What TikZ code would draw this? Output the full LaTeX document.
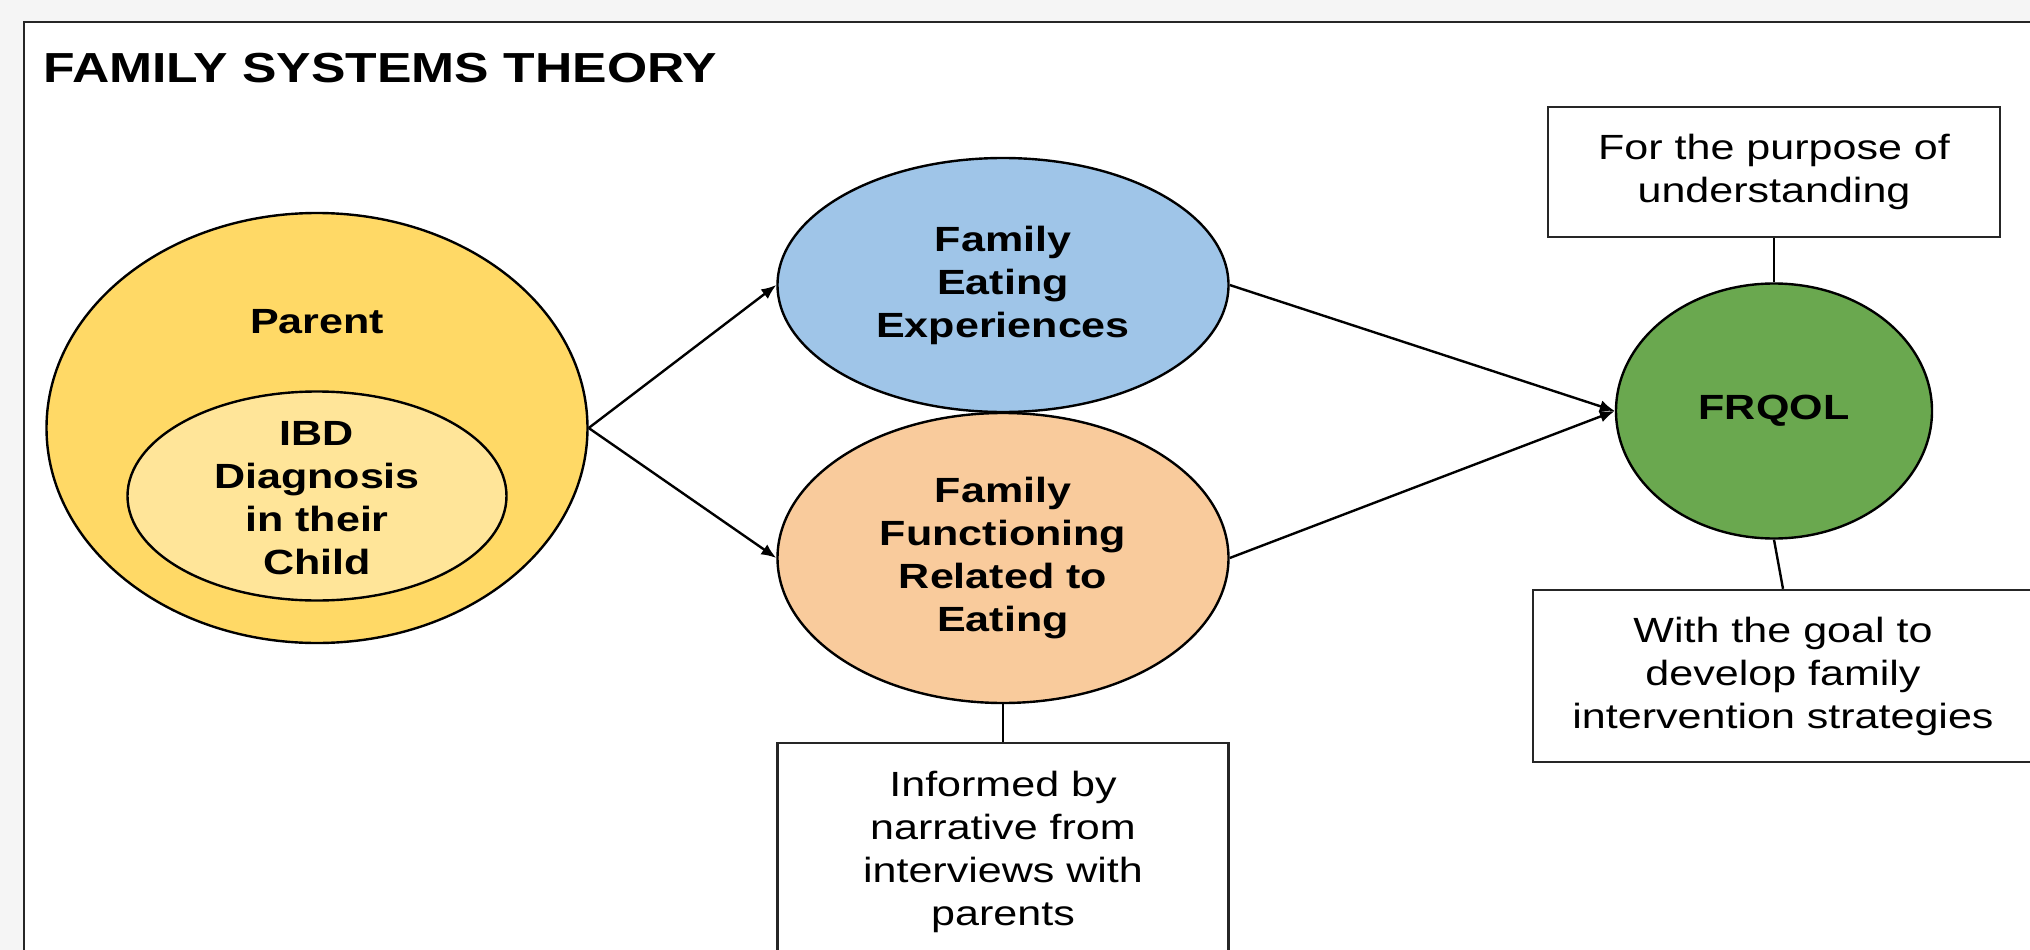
\documentclass[tikz,border=0pt]{standalone}
\usepackage{fontspec}
\setmainfont{Liberation Sans}[FakeStretch=1.23]
\usetikzlibrary{shapes.geometric,arrows.meta}

\definecolor{elterngelb}{HTML}{FFD966}
\definecolor{kindgelb}{HTML}{FFE599}
\definecolor{essblau}{HTML}{9FC5E8}
\definecolor{apricot}{HTML}{F9CB9C}
\definecolor{frqolgruen}{HTML}{6AA84F}

\begin{document}
\begin{tikzpicture}[x=1pt,y=-1pt,
		>={Latex[length=15pt,width=12pt]},
		every node/.style={font=\fontsize{35}{43}\selectfont,align=center},
		fett/.style={font=\fontsize{35}{43}\selectfont\bfseries},
		oval/.style={ellipse,draw,line width=2.4pt,inner sep=0pt},
		kasten/.style={rectangle,draw=black!85,line width=2.4pt,fill=white,inner sep=0pt},
		linie/.style={line width=2.4pt},
		pfeil/.style={->,line width=2.4pt}]
		
		% Hintergrund und Rahmen
		\fill[black!4] (0,0) rectangle (2030,950);
		\useasboundingbox (0,0) rectangle (2030,950);
		\clip (0,0) rectangle (2030,950);
		\draw[line width=2.8pt,draw=black!85,fill=white] (24,22) rectangle (2100,1000);
		
		% Titel
		\node[anchor=base west,font=\fontsize{42}{50}\selectfont\bfseries] (titel) at (40,83) {FAMILY SYSTEMS THEORY};
		
		% Eltern mit Diagnose des Kindes
		\node[oval,fill=elterngelb,minimum width=541pt,minimum height=430pt] (eltern) at (317,428) {};
		\node[fett,anchor=base] (elterntext) at (317,333) {Parent};
		\node[oval,fill=kindgelb,minimum width=379pt,minimum height=209pt] (ibd) at (317,496) {};
		\node[fett] (ibdtext) at (317,498) {IBD\\Diagnosis\\in their\\Child};
		
		% Essen in der Familie
		\node[oval,fett,fill=essblau,minimum width=451pt,minimum height=254pt] (essen) at (1003,285) {Family\\Eating\\Experiences};
		\node[oval,fett,fill=apricot,minimum width=451pt,minimum height=290pt] (funktion) at (1003,558) {Family\\Functioning\\Related to\\Eating};
		
		% Lebensqualitaet
		\node[oval,fett,fill=frqolgruen,minimum width=316pt,minimum height=255pt] (frqol) at (1774,411) {FRQOL};
		
		% Kaesten
		\node[kasten,minimum width=452pt,minimum height=130pt] (zweck) at (1774,172) {For the purpose of\\understanding};
		\node[kasten,minimum width=500pt,minimum height=172pt] (ziel) at (1783,676) {With the goal to\\develop family\\intervention strategies};
		\node[kasten,minimum width=451pt,minimum height=218pt] (narrativ) at (1003,852) {Informed by\\narrative from\\interviews with\\parents};
		
		% Pfeile
		\draw[pfeil] (eltern.east) -- (essen.west);
		\draw[pfeil] (eltern.east) -- (funktion.west);
		\draw[pfeil] (essen.east) -- (frqol.west);
		\draw[pfeil] (funktion.east) -- (frqol.west);
		
		% Verbindungen zu den Kaesten
		\draw[linie] (zweck) -- (frqol);
		\draw[linie] (frqol.south) -- (ziel.north);
		\draw[linie] (funktion) -- (narrativ);
		
	\end{tikzpicture}
\end{document}
